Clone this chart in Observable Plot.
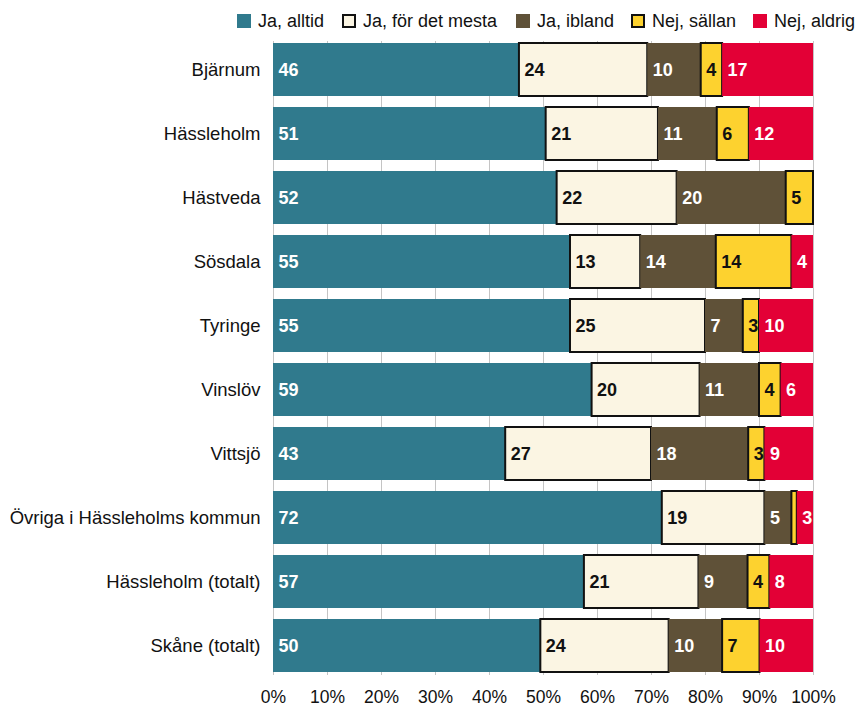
<!DOCTYPE html>
<html>
<head>
<meta charset="utf-8">
<script src="https://cdn.jsdelivr.net/npm/d3@7"></script>
<script src="https://cdn.jsdelivr.net/npm/@observablehq/plot@0.6"></script>
<style>
  body { margin: 0; background: #fff; font-family: "Liberation Sans", Arial, sans-serif; }
  #legend { height: 36px; position: relative; font-size: 18px; color: #111; }
  .item { position: absolute; top: 11px; display: flex; align-items: center; white-space: nowrap; line-height: 20px; }
  .sw { width: 14px; height: 14px; margin-right: 7px; box-sizing: border-box; }
</style>
</head>
<body>
<div id="legend"></div>
<div id="chart"></div>
<script>
const categories = ["Bjärnum", "Hässleholm", "Hästveda", "Sösdala", "Tyringe", "Vinslöv", "Vittsjö", "Övriga i Hässleholms kommun", "Hässleholm (totalt)", "Skåne (totalt)"];
const series = ["Ja, alltid", "Ja, för det mesta", "Ja, ibland", "Nej, sällan", "Nej, aldrig"];
const jaAlltid      = [46, 51, 52, 55, 55, 59, 43, 72, 57, 50];
const jaForDetMesta = [24, 21, 22, 13, 25, 20, 27, 19, 21, 24];
const jaIbland      = [10, 11, 20, 14,  7, 11, 18,  5,  9, 10];
const nejSallan     = [ 4,  6,  5, 14,  3,  4,  3,  1,  4,  7];
const nejAldrig     = [17, 12,  0,  4, 10,  6,  9,  3,  8, 10];
const xTicks = [0, 0.1, 0.2, 0.3, 0.4, 0.5, 0.6, 0.7, 0.8, 0.9, 1];

const colors = ["#307A8D", "#FBF5E3", "#5F5138", "#FDD22F", "#E30036"];
const light = new Set(["Ja, för det mesta", "Nej, sällan"]);

const seriesValues = [jaAlltid, jaForDetMesta, jaIbland, nejSallan, nejAldrig];
const data = [];
categories.forEach((c, i) => {
  series.forEach((s, j) => data.push({category: c, series: s, value: seriesValues[j][i]}));
});

// legend
const legendPos = [237, 342, 516, 631, 753];
const legend = document.getElementById("legend");
series.forEach((s, j) => {
  const it = document.createElement("div");
  it.className = "item";
  it.style.left = legendPos[j] + "px";
  const sw = document.createElement("span");
  sw.className = "sw";
  sw.style.background = colors[j];
  sw.style.border = light.has(s) ? "2px solid #111" : "none";
  it.appendChild(sw);
  const t = document.createElement("span");
  t.textContent = s;
  it.appendChild(t);
  legend.appendChild(it);
});

const stackOpts = {x: "value", y: "category", z: "series", offset: "normalize"};

const chart = Plot.plot({
  width: 857,
  height: 675,
  marginLeft: 273,
  marginRight: 44,
  marginTop: 5,
  marginBottom: 36,
  style: {fontFamily: "Liberation Sans, Arial, sans-serif", fontSize: "17.5px", color: "#111", background: "#fff"},
  x: {domain: [0, 1], ticks: xTicks, tickFormat: d => Math.round(d * 100) + "%", tickSize: 0, tickPadding: 15, label: null},
  y: {domain: categories, padding: 0.17, paddingOuter: 0.0225, tickSize: 0, tickPadding: 13, label: null},
  color: {domain: series, range: colors},
  marks: [
    Plot.gridX(xTicks, {stroke: "#c4c4c4", strokeOpacity: 1, strokeWidth: 1}),
    Plot.barX(data, Plot.stackX({
      ...stackOpts,
      fill: "series",
      stroke: d => light.has(d.series) ? "#111" : "none",
      strokeWidth: 2,
      inset: 0
    })),
    Plot.text(data, Plot.stackX1({
      ...stackOpts,
      text: d => d.value >= 2 ? String(d.value) : "",
      textAnchor: "start",
      dx: 5,
      fontSize: 18,
      fontWeight: "bold",
      fill: d => light.has(d.series) ? "#111" : "#fff"
    }))
  ]
});
chart.querySelectorAll("[aria-label='y-axis tick label'] text").forEach(t => t.style.fontSize = "18.5px");
document.getElementById("chart").appendChild(chart);
</script>
</body>
</html>
